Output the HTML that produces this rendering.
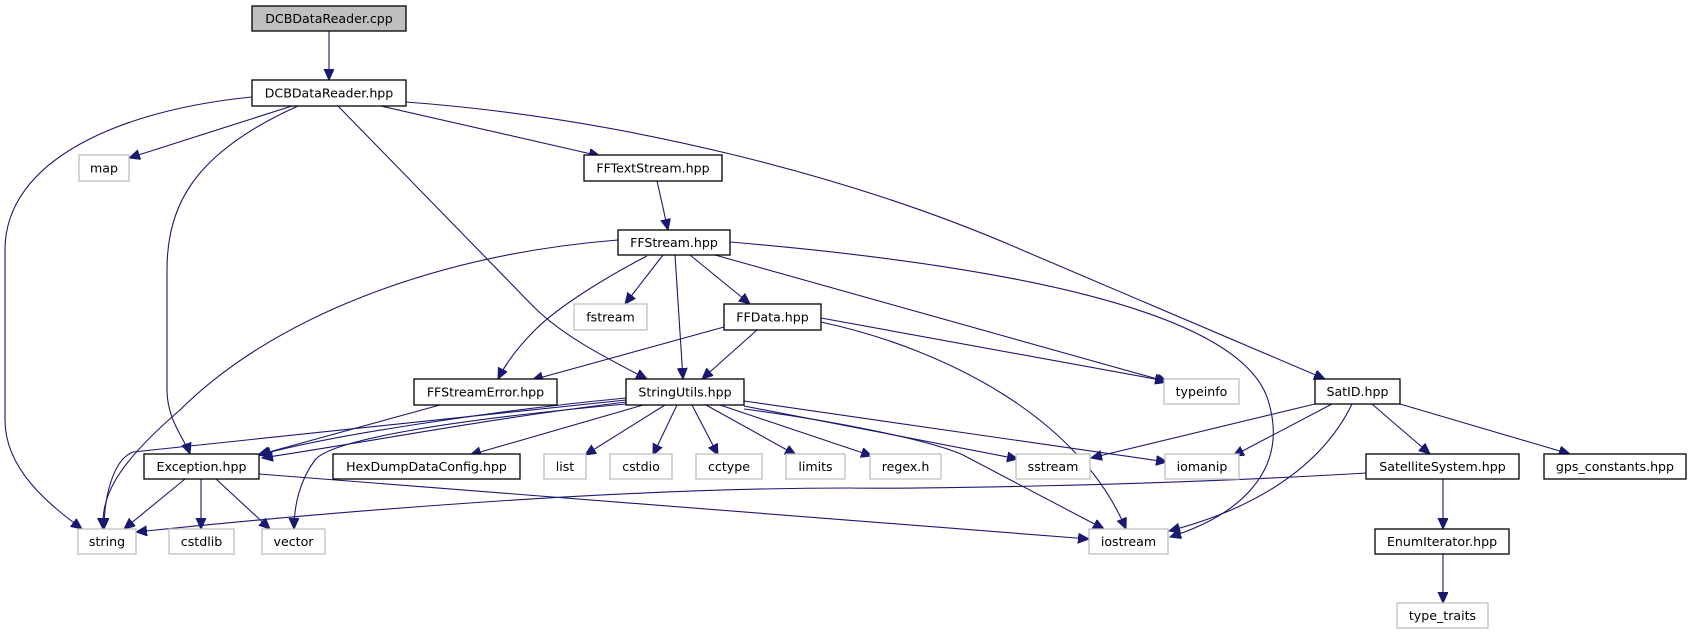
<!DOCTYPE html>
<html><head><meta charset="utf-8"><style>
html,body{margin:0;padding:0;background:#fff;}
svg{display:block;}
text{font-family:"DejaVu Sans","Liberation Sans",sans-serif;font-size:12.6px;fill:#000;}
.n{fill:#fff;stroke:#000;stroke-width:1.3;}
.g{fill:#fff;stroke:#bfbfbf;stroke-width:1.3;}
.e{fill:none;stroke:#191970;stroke-width:1.1;}
</style></head><body>
<svg width="1691" height="635" viewBox="0 0 1691 635" xmlns="http://www.w3.org/2000/svg">
<defs>
<marker id="a" markerUnits="userSpaceOnUse" markerWidth="14" markerHeight="12" refX="11" refY="5" orient="auto">
<path d="M0,0 L11,5 L0,10 Z" fill="#191970" stroke="#191970"/>
</marker>
</defs>
<g marker-end="url(#a)">
<path class="e" d="M329,31 L329,80"/>
<path class="e" d="M252,97 C120,110 5,160 5,250 L5,420 C5,470 50,505 82,529"/>
<path class="e" d="M292,106 L129,158"/>
<path class="e" d="M298,106 C200,150 167,200 167,270 L167,390 C167,420 185,440 190,454"/>
<path class="e" d="M338,106 L530,303 C560,335 610,360 647,379"/>
<path class="e" d="M381,106 L600,156"/>
<path class="e" d="M406,102 C620,118 850,175 1022,250 L1325,379"/>
<path class="e" d="M657,181 L668,230"/>
<path class="e" d="M618,240 C430,255 270,320 180,410 C110,470 102,500 103,529"/>
<path class="e" d="M647,256 C610,275 560,305 535,330 Q510,355 498,379"/>
<path class="e" d="M663,255 L625,304"/>
<path class="e" d="M675,255 L683,379"/>
<path class="e" d="M690,255 L750,304"/>
<path class="e" d="M715,255 L1168,382"/>
<path class="e" d="M730,242 C1000,265 1240,310 1268,400 C1290,470 1240,515 1170,537"/>
<path class="e" d="M724,327 L532,380"/>
<path class="e" d="M757,330 L702,379"/>
<path class="e" d="M821,318 L1166,381"/>
<path class="e" d="M821,322 C950,350 1080,420 1126,529"/>
<path class="e" d="M440,405 L258,455"/>
<path class="e" d="M626,400 L133,452 C112,460 104,500 104,529"/>
<path class="e" d="M626,398 C500,410 330,435 260,455"/>
<path class="e" d="M626,402 C480,420 380,440 262,458"/>
<path class="e" d="M626,404 C450,420 330,440 315,460 C300,480 294,505 294,529"/>
<path class="e" d="M643,405 L470,455"/>
<path class="e" d="M665,405 L585,455"/>
<path class="e" d="M677,405 L653,455"/>
<path class="e" d="M692,405 L718,455"/>
<path class="e" d="M706,405 L796,455"/>
<path class="e" d="M720,405 L872,456"/>
<path class="e" d="M744,406 L1018,459"/>
<path class="e" d="M744,401 L1167,462"/>
<path class="e" d="M744,409 C830,420 930,440 963,455 L1104,529"/>
<path class="e" d="M185,479 L124,529"/>
<path class="e" d="M201,479 L201,529"/>
<path class="e" d="M216,479 L270,529"/>
<path class="e" d="M259,474 L1089,539"/>
<path class="e" d="M1315,404 L1091,458"/>
<path class="e" d="M1332,404 L1233,456"/>
<path class="e" d="M1352,404 C1320,470 1250,510 1169,531"/>
<path class="e" d="M1372,404 L1430,454"/>
<path class="e" d="M1400,404 L1570,454"/>
<path class="e" d="M1366,473 C1150,486 900,489 850,488 C600,488 300,515 136,532"/>
<path class="e" d="M1443,479 L1443,529"/>
<path class="e" d="M1443,554 L1443,603"/>
</g>
<rect x="252" y="6" width="154" height="25" fill="#bfbfbf" stroke="#000" stroke-width="1.3"/>
<text x="329" y="23" text-anchor="middle">DCBDataReader.cpp</text>
<rect class="n" x="252" y="80" width="154" height="26"/><text x="329" y="97.5" text-anchor="middle">DCBDataReader.hpp</text>
<rect class="g" x="79" y="155" width="50" height="26"/><text x="104" y="172.5" text-anchor="middle">map</text>
<rect class="n" x="584" y="155" width="138" height="26"/><text x="653" y="172.5" text-anchor="middle">FFTextStream.hpp</text>
<rect class="n" x="618" y="230" width="112" height="25"/><text x="674" y="247" text-anchor="middle">FFStream.hpp</text>
<rect class="g" x="574" y="304" width="73" height="26"/><text x="610.5" y="321.5" text-anchor="middle">fstream</text>
<rect class="n" x="724" y="304" width="97" height="26"/><text x="772.5" y="321.5" text-anchor="middle">FFData.hpp</text>
<rect class="n" x="414" y="379" width="143" height="26"/><text x="485.5" y="396.5" text-anchor="middle">FFStreamError.hpp</text>
<rect class="n" x="626" y="379" width="118" height="26"/><text x="685" y="396.5" text-anchor="middle">StringUtils.hpp</text>
<rect class="g" x="1164" y="379" width="75" height="25"/><text x="1201.5" y="396" text-anchor="middle">typeinfo</text>
<rect class="n" x="1315" y="379" width="85" height="25"/><text x="1357.5" y="396" text-anchor="middle">SatID.hpp</text>
<rect class="n" x="144" y="454" width="115" height="25"/><text x="201.5" y="471" text-anchor="middle">Exception.hpp</text>
<rect class="n" x="333" y="454" width="187" height="25"/><text x="426.5" y="471" text-anchor="middle">HexDumpDataConfig.hpp</text>
<rect class="g" x="544" y="454" width="42" height="25"/><text x="565" y="471" text-anchor="middle">list</text>
<rect class="g" x="610" y="454" width="62" height="25"/><text x="641" y="471" text-anchor="middle">cstdio</text>
<rect class="g" x="696" y="454" width="66" height="25"/><text x="729" y="471" text-anchor="middle">cctype</text>
<rect class="g" x="786" y="454" width="59" height="25"/><text x="815.5" y="471" text-anchor="middle">limits</text>
<rect class="g" x="870" y="454" width="71" height="25"/><text x="905.5" y="471" text-anchor="middle">regex.h</text>
<rect class="g" x="1016" y="454" width="74" height="25"/><text x="1053" y="471" text-anchor="middle">sstream</text>
<rect class="g" x="1165" y="454" width="74" height="25"/><text x="1202" y="471" text-anchor="middle">iomanip</text>
<rect class="n" x="1366" y="454" width="153" height="25"/><text x="1442.5" y="471" text-anchor="middle">SatelliteSystem.hpp</text>
<rect class="n" x="1544" y="454" width="142" height="25"/><text x="1615" y="471" text-anchor="middle">gps_constants.hpp</text>
<rect class="g" x="78" y="529" width="58" height="25"/><text x="107" y="546" text-anchor="middle">string</text>
<rect class="g" x="169" y="529" width="65" height="25"/><text x="201.5" y="546" text-anchor="middle">cstdlib</text>
<rect class="g" x="262" y="529" width="63" height="25"/><text x="293.5" y="546" text-anchor="middle">vector</text>
<rect class="g" x="1089" y="529" width="79" height="25"/><text x="1128.5" y="546" text-anchor="middle">iostream</text>
<rect class="n" x="1375" y="529" width="134" height="25"/><text x="1442" y="546" text-anchor="middle">EnumIterator.hpp</text>
<rect class="g" x="1397" y="603" width="91" height="25"/><text x="1442.5" y="620" text-anchor="middle">type_traits</text>
</svg>
</body></html>
